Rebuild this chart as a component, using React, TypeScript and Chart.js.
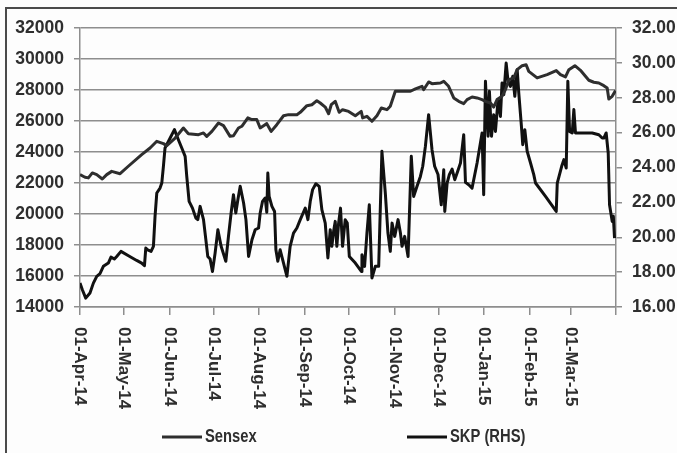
import React, { useEffect, useRef } from 'react';
import { Chart, registerables } from 'chart.js';

Chart.register(...registerables);

// Days counted from 01-Apr-2014
const sensexDays = [
  0, 3.4, 5.7, 8.4, 11.4, 15.2, 18.2, 21.6, 27.3, 32.9, 42, 47.7, 52.3, 56.8, 59.1, 64.8,
  70.4, 73.8, 80.7, 84.1, 86.3, 89.8, 94.3, 97.7, 102.2, 104.5, 107.9, 110.2, 114.3, 117,
  120.4, 122.7, 125, 127.2, 130.2, 134, 138.6, 142, 147.7, 150, 154.5, 157.9, 161.3, 163.6,
  167, 169.3, 171.1, 173.8, 176.5, 178.8, 182.9, 187.5, 191.5, 192.5, 195.4, 198.8, 202.2,
  205.2, 209, 211.3, 214.7, 219.3, 225, 228.4, 232.9, 234, 237.4, 239.7, 245.4, 247.7, 251,
  254.5, 257.9, 261.3, 263.6, 267, 270.4, 273.8, 276.1, 279.5, 281.7, 284, 287.4, 289.7, 292,
  295.4, 297.7, 301.1, 303.8, 305.6, 311.3, 318.1, 324.3, 327.2, 330.6, 332.9, 337, 340.8,
  344.2, 346.5, 349.9, 353.3, 356.7, 359, 360.1, 362.4, 364.7,
];
const sensexValues = [
  22540, 22370, 22330, 22650, 22540, 22260, 22540, 22750, 22600, 23080, 23830, 24260, 24690,
  24540, 24410, 24900, 25550, 25180, 25120, 25230, 25010, 25330, 25870, 25700, 25010, 25050,
  25550, 25660, 26200, 26090, 26090, 25550, 25700, 25830, 25330, 25760, 26340, 26410, 26410,
  26560, 26990, 27050, 27310, 27160, 26900, 26470, 27050, 27270, 26560, 26730, 26620, 26340,
  26620, 26200, 26300, 25980, 26340, 26840, 26730, 26950, 27920, 27920, 27920, 28070, 28240,
  28020, 28520, 28410, 28450, 28560, 28240, 27490, 27270, 27120, 27380, 27550, 27490, 27380,
  27270, 27160, 26900, 27380, 27590, 28020, 28670, 28780, 29310, 29570, 29630, 29200, 28780,
  28990, 29250, 28990, 28840, 29310, 29570, 29270, 28890, 28630, 28500, 28450, 28280, 28130,
  27420, 27590, 27960,
];

const skpDays = [
  0, 1.6, 3.9, 6.8, 9.1, 11.4, 13.6, 15.9, 19.3, 21.1, 23.4, 25, 27.9, 33, 38.6, 42, 43.9,
  44.8, 46.1, 48.4, 50, 51.1, 52.3, 54.5, 55.7, 56.8, 57.9, 61.4, 64.3, 67, 69.8, 71.6, 72.7,
  74.3, 76.6, 78.9, 80.2, 81.8, 84.1, 85.7, 87, 88.6, 90.2, 92, 93.9, 96.1, 99.3, 101.1, 102.9,
  104.5, 106.1, 107.5, 109.1, 111.4, 113, 114.8, 117.1, 119.3, 121.6, 122.7, 124.3, 126.1,
  127.2, 127.9, 128.8, 130.7, 132.5, 133.4, 134.7, 136.3, 138.6, 140.9, 143.1, 145.4, 147.7,
  150, 153.4, 155.2, 156.8, 158.4, 160.6, 162.9, 164.7, 167, 168.8, 170.4, 171.5, 172.7, 173.8,
  174.9, 176.1, 177.4, 178.8, 180.6, 182, 183.4, 187.5, 191.6, 192, 193.8, 195.4, 197, 198.8,
  201.1, 203.4, 205.6, 207.9, 209.7, 211.3, 212.5, 214.3, 216.6, 218.2, 219.3, 221.1, 223.4,
  225.6, 227.2, 229.5, 231.8, 233.4, 235.2, 237.4, 239.7, 241.5, 243.8, 246, 247.7, 248.4, 250,
  251.5, 253.4, 255.2, 256.8, 259.1, 261.3, 262.5, 264.7, 267, 270.4, 273.8, 274.9, 276.1,
  277.9, 278.8, 280.2, 281.7, 282.9, 284.7, 286.3, 287.4, 288.6, 290.2, 291.5, 293.1, 294.7,
  296.1, 297.7, 298.8, 300.6, 301.5, 302.9, 304.5, 306.8, 309, 310.2, 317, 324.3, 325, 328,
  329.5, 331.1, 332.2, 333.4, 335.2, 336.3, 337.4, 342, 348.8, 353.3, 355.6, 356.7, 358.3,
  359.7, 360.6, 362.4, 363.2, 364,
];
const skpValues = [
  17.37, 16.99, 16.51, 16.8, 17.37, 17.76, 17.91, 18.33, 18.52, 18.86, 18.75, 18.9, 19.19,
  18.94, 18.67, 18.52, 18.37, 19.38, 19.28, 19.19, 19.48, 21.2, 22.54, 22.82, 23.11, 24.07,
  25.12, 25.69, 26.17, 25.59, 25.02, 24.64, 23.49, 22.06, 21.67, 21.1, 21.01, 21.77, 21.01,
  19.86, 18.9, 18.75, 18.04, 19.09, 20.43, 19.48, 18.62, 20.05, 21.39, 22.44, 21.39, 22.15,
  22.92, 21.96, 21.01, 18.9, 19.86, 20.43, 20.53, 21.39, 22.06, 22.25, 21.43, 23.68, 22.34,
  21.77, 21.48, 19.28, 18.62, 19.28, 18.52, 17.76, 19.48, 20.24, 20.53, 21.01, 21.67, 21.01,
  22.06, 22.73, 23.07, 22.92, 21.58, 20.81, 18.81, 20.43, 19.48, 20.34, 20.91, 19.48, 20.81,
  21.67, 19.48, 21.01, 20.81, 18.9, 18.52, 18.04, 19.0, 18.33, 20.24, 21.86, 17.66, 18.33,
  18.33, 24.93, 22.54, 20.24, 19.19, 20.81, 20.05, 21.01, 20.24, 19.48, 20.05, 18.9, 24.64,
  22.34, 22.92, 23.49, 24.07, 25.21, 27.03, 25.02, 24.07, 23.6, 21.86, 23.87, 21.48, 23.11,
  23.59, 23.91, 23.3, 23.68, 24.26, 25.88, 23.15, 23.01, 22.82, 24.26, 25.98, 22.44, 28.94,
  25.79, 28.37, 25.79, 27.03, 26.07, 27.89, 26.93, 28.84, 28.18, 29.99, 28.94, 28.65, 29.23,
  28.08, 29.61, 28.27, 26.36, 25.31, 26.17, 24.93, 24.26, 23.59, 23.11, 22.34, 21.48, 23.11,
  24.07, 24.45, 23.97, 28.94, 26.07, 25.98, 27.32, 25.98, 25.98, 25.98, 25.88, 25.69, 25.69,
  25.98, 24.83, 21.86, 20.91, 21.2, 19.95,
];

const tickDays = [0, 30, 61, 91, 122, 153, 183, 214, 244, 275, 306, 334];
const tickLabels = [
  '01-Apr-14', '01-May-14', '01-Jun-14', '01-Jul-14', '01-Aug-14', '01-Sep-14',
  '01-Oct-14', '01-Nov-14', '01-Dec-14', '01-Jan-15', '01-Feb-15', '01-Mar-15',
];
const axisEndDay = 365;

const seriesNames = ['Sensex', 'SKP (RHS)'];

const FONT = "'Liberation Sans', Arial, sans-serif";
const TEXT = '#2e2e2e';
const GRID = '#8e8e8e';

const customDrawPlugin = {
  id: 'customDraw',
  afterDraw(chart: any) {
    const ctx = chart.ctx;
    const xs = chart.scales.x;
    const area = chart.chartArea;
    ctx.save();
    // clockwise-rotated date labels
    ctx.font = `bold 17px ${FONT}`;
    ctx.fillStyle = TEXT;
    ctx.textAlign = 'left';
    ctx.textBaseline = 'middle';
    tickDays.forEach((d, i) => {
      const x = xs.getPixelForValue(d);
      ctx.save();
      ctx.translate(x, area.bottom + 20);
      ctx.rotate(Math.PI / 2);
      ctx.fillText(tickLabels[i], 0, 0);
      ctx.restore();
    });
    // legend
    const itemStarts = [area.left + 82, area.left + 327];
    const ly = 437;
    chart.data.datasets.forEach((ds: any, i: number) => {
      const x0 = itemStarts[i];
      ctx.strokeStyle = ds.borderColor;
      ctx.lineWidth = 3;
      ctx.beginPath();
      ctx.moveTo(x0, ly);
      ctx.lineTo(x0 + 40, ly);
      ctx.stroke();
      ctx.save();
      ctx.translate(x0 + 43, ly);
      ctx.scale(0.82, 1);
      ctx.font = `bold 18px ${FONT}`;
      ctx.fillStyle = TEXT;
      ctx.textAlign = 'left';
      ctx.textBaseline = 'middle';
      ctx.fillText(ds.label, 0, 0);
      ctx.restore();
    });
    ctx.restore();
  },
};

export default function App() {
  const ref = useRef<HTMLCanvasElement>(null);

  useEffect(() => {
    if (!ref.current) return;
    const chart = new Chart(ref.current, {
      type: 'line',
      data: {
        datasets: [
          {
            label: seriesNames[0],
            data: sensexDays.map((d, i) => ({ x: d, y: sensexValues[i] })),
            borderColor: '#2e2e2e',
            borderWidth: 3,
            pointRadius: 0,
            tension: 0,
            borderJoinStyle: 'round',
            yAxisID: 'y',
          },
          {
            label: seriesNames[1],
            data: skpDays.map((d, i) => ({ x: d, y: skpValues[i] })),
            borderColor: '#111111',
            borderWidth: 3,
            pointRadius: 0,
            tension: 0,
            borderJoinStyle: 'round',
            yAxisID: 'y2',
          },
        ],
      },
      options: {
        animation: false,
        responsive: false,
        events: [],
        layout: { padding: { top: 28, left: 0, right: 0, bottom: 0 } },
        plugins: { legend: { display: false }, tooltip: { enabled: false } },
        scales: {
          x: {
            type: 'linear',
            min: 0,
            max: axisEndDay,
            afterBuildTicks: (s: any) => {
              s.ticks = [...tickDays, axisEndDay].map((v) => ({ value: v }));
            },
            ticks: { display: false },
            grid: { drawOnChartArea: false, drawTicks: true, tickLength: 8, color: GRID, lineWidth: 1.5 },
            border: { color: GRID, width: 1.5 },
            afterFit: (s: any) => {
              s.height = 146;
            },
          },
          y: {
            position: 'left',
            min: 14000,
            max: 32000,
            ticks: {
              stepSize: 2000,
              color: TEXT,
              padding: 10,
              font: { family: FONT, size: 17.5, weight: 'bold' },
              callback: (v: any) => String(v),
            },
            grid: { color: GRID, lineWidth: 1.5, tickLength: 6 },
            border: { color: GRID, width: 1.5 },
            afterFit: (s: any) => {
              s.width = 80;
            },
          },
          y2: {
            position: 'right',
            min: 16,
            max: 32,
            ticks: {
              stepSize: 2,
              color: TEXT,
              padding: 10,
              font: { family: FONT, size: 17.5, weight: 'bold' },
              callback: (v: any) => Number(v).toFixed(2),
            },
            grid: { drawOnChartArea: false, color: GRID, lineWidth: 1.5, tickLength: 6 },
            border: { color: GRID, width: 1.5 },
            afterFit: (s: any) => {
              s.width = 61;
            },
          },
        },
      },
      plugins: [customDrawPlugin],
    } as any);
    return () => chart.destroy();
  }, []);

  return (
    <div style={{ position: 'fixed', left: 0, top: 0, width: 677, height: 453, background: '#fdfdfd', overflow: 'hidden' }}>
      <div
        style={{
          position: 'absolute',
          left: 5,
          top: 7,
          width: 700,
          height: 470,
          borderLeft: '2px solid #4a4a4a',
          borderTop: '2px solid #4a4a4a',
        }}
      />
      <canvas ref={ref} width={677} height={453} style={{ position: 'absolute', left: 0, top: 0, display: 'block' }} />
    </div>
  );
}
